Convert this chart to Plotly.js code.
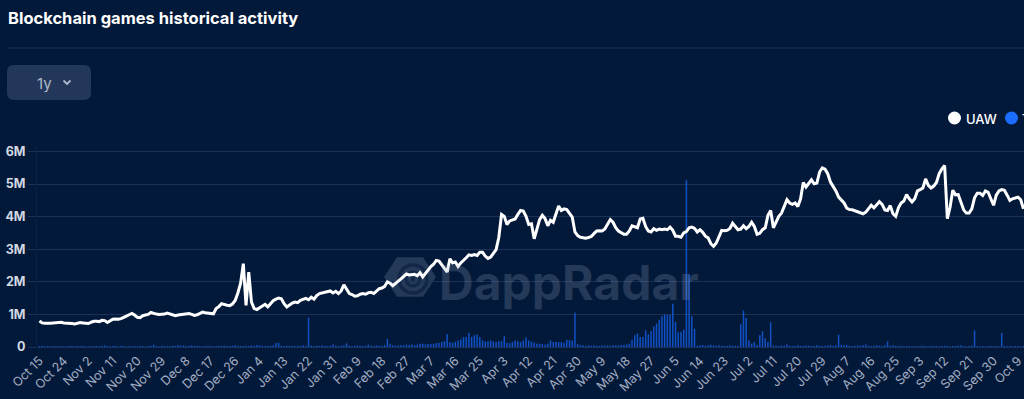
<!DOCTYPE html>
<html>
<head>
<meta charset="utf-8">
<script src="https://cdn.plot.ly/plotly-3.0.1.min.js"></script>
<style>
  html, body { margin: 0; padding: 0; background: #03193a; overflow: hidden; }
  #chart { width: 1024px; height: 399px; }
</style>
</head>
<body>
<div id="chart"></div>
<script>
// ---------------- DATA ----------------
const START_DATE = '2023-10-15';

// Unique active wallets (millions), one value per day from Oct 15
const UAW = [
  0.80,0.74,0.73,0.72,0.73,0.74,0.75,0.76,0.76,0.74,
  0.74,0.73,0.72,0.71,0.73,0.75,0.74,0.72,0.72,0.76,
  0.79,0.79,0.78,0.82,0.81,0.75,0.81,0.85,0.86,0.85,
  0.87,0.92,0.95,0.99,1.03,0.98,0.91,0.90,0.96,0.98,
  1.00,1.06,1.03,1.01,1.00,1.00,1.01,1.04,1.02,0.98,
  0.96,0.98,0.99,1.00,1.01,1.03,1.00,0.97,0.99,1.03,
  1.07,1.05,1.04,1.03,1.02,1.18,1.24,1.33,1.30,1.28,
  1.27,1.32,1.43,1.66,1.96,2.56,1.28,2.30,1.38,1.18,
  1.15,1.21,1.26,1.31,1.23,1.34,1.42,1.47,1.50,1.48,
  1.33,1.23,1.30,1.35,1.38,1.36,1.43,1.47,1.49,1.45,
  1.53,1.47,1.58,1.64,1.66,1.66,1.68,1.72,1.66,1.71,
  1.64,1.72,1.91,1.79,1.64,1.61,1.56,1.57,1.62,1.64,
  1.62,1.67,1.68,1.64,1.72,1.79,1.81,1.86,2.00,1.96,
  1.88,1.94,2.02,2.09,2.17,2.24,2.21,2.22,2.23,2.19,
  2.28,2.15,2.27,2.37,2.47,2.54,2.66,2.64,2.52,2.40,
  2.30,2.71,2.58,2.61,2.47,2.58,2.65,2.74,2.83,2.81,
  2.84,2.81,2.91,2.91,2.79,2.72,2.76,2.86,2.99,3.37,
  4.07,4.01,3.76,3.87,3.91,3.93,4.07,4.19,4.17,4.01,
  3.76,3.78,3.32,3.60,3.91,4.04,3.94,3.72,3.89,3.83,
  4.12,4.33,4.19,4.24,4.22,4.11,3.99,3.53,3.42,3.37,
  3.35,3.34,3.36,3.39,3.48,3.56,3.57,3.56,3.62,3.78,
  3.91,3.83,3.66,3.56,3.51,3.46,3.46,3.56,3.72,3.70,
  3.66,3.93,3.95,3.70,3.56,3.53,3.63,3.58,3.62,3.60,
  3.62,3.60,3.68,3.58,3.40,3.40,3.37,3.50,3.54,3.66,
  3.68,3.64,3.53,3.60,3.52,3.40,3.35,3.17,3.09,3.19,
  3.37,3.58,3.57,3.58,3.64,3.80,3.70,3.60,3.62,3.72,
  3.63,3.70,3.83,3.70,3.46,3.49,3.60,3.66,4.04,4.19,
  3.66,3.83,4.01,4.11,4.29,4.52,4.42,4.38,4.42,4.31,
  4.55,5.05,4.91,5.03,5.13,5.01,5.03,5.37,5.50,5.46,
  5.32,5.06,4.93,4.79,4.60,4.52,4.42,4.26,4.22,4.21,
  4.18,4.16,4.13,4.09,4.14,4.23,4.35,4.27,4.35,4.46,
  4.38,4.21,4.19,4.34,4.09,4.01,4.27,4.42,4.48,4.68,
  4.55,4.45,4.55,4.79,4.83,4.88,5.16,4.96,4.88,4.94,
  5.05,5.32,5.47,5.57,3.94,4.29,4.81,4.67,4.68,4.45,
  4.21,4.11,4.11,4.24,4.58,4.72,4.72,4.65,4.79,4.75,
  4.55,4.35,4.66,4.79,4.83,4.81,4.66,4.50,4.55,4.58,
  4.60,4.52,4.24
];

// Transactions bars, as drawn on the same scale (millions), one per day
const TRANSACTIONS = [
  0.03,0.04,0.02,0.03,0.02,0.03,0.02,0.02,0.03,0.02,
  0.02,0.03,0.04,0.02,0.03,0.02,0.04,0.02,0.02,0.03,
  0.02,0.03,0.02,0.04,0.05,0.03,0.02,0.03,0.04,0.02,
  0.04,0.03,0.02,0.03,0.02,0.03,0.02,0.04,0.03,0.02,
  0.03,0.04,0.07,0.03,0.02,0.04,0.03,0.02,0.03,0.04,
  0.03,0.06,0.04,0.05,0.03,0.04,0.05,0.03,0.04,0.03,
  0.02,0.03,0.04,0.03,0.02,0.03,0.04,0.03,0.04,0.03,
  0.03,0.04,0.05,0.04,0.03,0.03,0.04,0.03,0.05,0.04,
  0.06,0.05,0.04,0.03,0.03,0.04,0.05,0.12,0.13,0.04,
  0.03,0.04,0.03,0.04,0.03,0.04,0.03,0.05,0.04,0.90,
  0.04,0.03,0.04,0.03,0.05,0.04,0.03,0.04,0.08,0.04,
  0.03,0.04,0.05,0.11,0.04,0.03,0.04,0.05,0.04,0.03,
  0.04,0.07,0.04,0.03,0.05,0.04,0.04,0.06,0.25,0.10,
  0.05,0.04,0.05,0.06,0.05,0.07,0.06,0.08,0.06,0.07,
  0.10,0.10,0.08,0.10,0.09,0.10,0.12,0.12,0.15,0.18,
  0.39,0.15,0.13,0.16,0.20,0.23,0.30,0.31,0.44,0.31,
  0.36,0.38,0.31,0.20,0.17,0.18,0.20,0.17,0.15,0.18,
  0.18,0.33,0.13,0.12,0.15,0.20,0.18,0.15,0.20,0.29,
  0.20,0.17,0.14,0.10,0.10,0.09,0.08,0.10,0.20,0.15,
  0.16,0.15,0.15,0.13,0.22,0.21,0.20,1.05,0.10,0.06,
  0.05,0.04,0.05,0.04,0.05,0.04,0.03,0.05,0.04,0.05,
  0.04,0.05,0.05,0.05,0.06,0.06,0.08,0.10,0.22,0.36,
  0.41,0.31,0.31,0.51,0.39,0.49,0.63,0.72,0.84,0.94,
  1.00,0.98,0.98,1.33,0.77,0.45,0.46,0.53,5.13,2.23,
  0.94,0.56,0.04,0.05,0.06,0.04,0.05,0.07,0.05,0.04,
  0.05,0.04,0.03,0.04,0.05,0.04,0.03,0.04,0.70,1.12,
  0.89,0.20,0.10,0.15,0.06,0.36,0.48,0.26,0.15,0.76,
  0.05,0.04,0.03,0.05,0.04,0.08,0.04,0.03,0.04,0.05,
  0.04,0.03,0.05,0.04,0.03,0.04,0.05,0.04,0.03,0.04,
  0.05,0.06,0.04,0.05,0.38,0.07,0.05,0.06,0.04,0.03,
  0.04,0.05,0.04,0.05,0.08,0.04,0.03,0.04,0.05,0.04,
  0.03,0.05,0.17,0.04,0.05,0.03,0.04,0.03,0.02,0.03,
  0.03,0.02,0.03,0.02,0.03,0.04,0.03,0.02,0.03,0.04,
  0.03,0.02,0.03,0.04,0.03,0.02,0.03,0.03,0.04,0.05,
  0.03,0.02,0.03,0.04,0.51,0.03,0.02,0.03,0.02,0.03,
  0.03,0.02,0.03,0.02,0.43,0.03,0.02,0.03,0.02,0.03,
  0.03,0.02,0.03
];

const X_TICK_LABELS = [
  'Oct 15','Oct 24','Nov 2','Nov 11','Nov 20','Nov 29','Dec 8','Dec 17','Dec 26',
  'Jan 4','Jan 13','Jan 22','Jan 31','Feb 9','Feb 18','Feb 27','Mar 7','Mar 16',
  'Mar 25','Apr 3','Apr 12','Apr 21','Apr 30','May 9','May 18','May 27','Jun 5',
  'Jun 14','Jun 23','Jul 2','Jul 11','Jul 20','Jul 29','Aug 7','Aug 16','Aug 25',
  'Sep 3','Sep 12','Sep 21','Sep 30','Oct 9'
];
const X_TICK_STEP_DAYS = 9;
const Y_TICK_VALUES = [0, 1, 2, 3, 4, 5, 6];
const Y_TICK_LABELS = ['0', '1M', '2M', '3M', '4M', '5M', '6M'];
const LEGEND_LABELS = ['UAW', 'Transactions'];
const TITLE = 'Blockchain games historical activity';
const RANGE_BUTTON = '1y';
const WATERMARK = 'DappRadar';

// ---------------- BUILD ----------------
const DAY = 86400000;
const t0 = Date.parse(START_DATE + 'T00:00:00Z');
function fmt(ms, withTime) {
  const s = new Date(ms).toISOString();
  return withTime ? s.slice(0, 19).replace('T', ' ') : s.slice(0, 10);
}
const dates = UAW.map((_, i) => fmt(t0 + i * DAY, false));
const tickvals = X_TICK_LABELS.map((_, i) => fmt(t0 + i * X_TICK_STEP_DAYS * DAY, false));

const W = 1024, H = 399;
const M = { l: 37, r: 0, t: 145, b: 52 };
const PW = W - M.l - M.r, PH = H - M.t - M.b;
const fx = px => (px - M.l) / PW;
const fy = py => (H - M.b - py) / PH;

const BG = '#03193a';
const GRID = '#1b3158';
const FONT = 'Inter, Roboto, sans-serif';

function roundRect(x0, y0, x1, y1, r) {
  const p = [
    ['M', x0 + r, y0], ['L', x1 - r, y0], ['Q', x1, y0, x1, y0 + r],
    ['L', x1, y1 - r], ['Q', x1, y1, x1 - r, y1], ['L', x0 + r, y1],
    ['Q', x0, y1, x0, y1 - r], ['L', x0, y0 + r], ['Q', x0, y0, x0 + r, y0]
  ];
  return p.map(seg => {
    const c = seg[0]; const out = [c];
    for (let i = 1; i < seg.length; i += 2) out.push(fx(seg[i]) + ',' + fy(seg[i + 1]));
    return out.join(' ');
  }).join(' ') + ' Z';
}
function polyPath(pts) {
  return pts.map((p, i) => (i ? 'L ' : 'M ') + fx(p[0]) + ',' + fy(p[1])).join(' ') + ' Z';
}
function openPath(pts) {
  return pts.map((p, i) => (i ? 'L ' : 'M ') + fx(p[0]) + ',' + fy(p[1])).join(' ');
}
function circ(cx, cy, r, style) {
  return Object.assign({
    type: 'circle', xref: 'paper', yref: 'paper',
    x0: fx(cx - r), x1: fx(cx + r), y0: fy(cy + r), y1: fy(cy - r)
  }, style);
}

// watermark hexagon
const hcx = 410, hcy = 277, hr = 26;
const hex = [];
for (let k = 0; k < 6; k++) {
  const a = Math.PI / 180 * (60 * k);
  hex.push([hcx + hr * Math.cos(a), hcy + hr * 0.88 * Math.sin(a)]);
}

const shapes = [
  { type: 'line', xref: 'paper', yref: 'paper', x0: fx(7), x1: fx(1030), y0: fy(48), y1: fy(48),
    line: { color: '#1a3562', width: 1 } },
  { type: 'path', xref: 'paper', yref: 'paper', path: roundRect(7, 65, 91, 100, 7),
    fillcolor: '#22375a', line: { width: 0 } },
  { type: 'path', xref: 'paper', yref: 'paper', path: openPath([[63.5, 80.5], [67, 84], [70.5, 80.5]]),
    line: { color: '#aeb8c9', width: 1.8 } },
  { type: 'path', xref: 'paper', yref: 'paper', path: polyPath(hex), layer: 'below',
    fillcolor: 'rgba(160,172,196,0.22)', line: { width: 0 } },
  circ(413, 279, 14, { layer: 'below', line: { color: 'rgba(3,25,58,0.55)', width: 3.5 } }),
  circ(413, 279, 7, { layer: 'below', line: { color: 'rgba(3,25,58,0.55)', width: 3 } }),
  circ(413, 279, 2, { layer: 'below', fillcolor: 'rgba(3,25,58,0.55)', line: { width: 0 } }),
  circ(954.5, 118, 6.5, { fillcolor: '#ffffff', line: { width: 0 } }),
  circ(1011.5, 118, 6.5, { fillcolor: '#1a6dff', line: { width: 0 } })
];

const annotations = [
  { xref: 'paper', yref: 'paper', x: fx(44), y: fy(83), text: RANGE_BUTTON, showarrow: false,
    xanchor: 'center', yanchor: 'middle', font: { family: FONT, size: 15, color: '#aeb8c9' } },
  { xref: 'paper', yref: 'paper', x: fx(569), y: fy(282), text: WATERMARK, showarrow: false,
    xanchor: 'center', yanchor: 'middle',
    font: { family: FONT, size: 48, weight: 700, color: 'rgba(160,172,196,0.22)' } },
  { xref: 'paper', yref: 'paper', x: fx(964), y: fy(118.5), text: LEGEND_LABELS[0], showarrow: false,
    xanchor: 'left', yanchor: 'middle', font: { family: FONT, size: 13, weight: 500, color: '#ffffff' } },
  { xref: 'paper', yref: 'paper', x: fx(1020), y: fy(118.5), text: LEGEND_LABELS[1], showarrow: false,
    xanchor: 'left', yanchor: 'middle', font: { family: FONT, size: 13, weight: 500, color: '#ffffff' } }
];

const traces = [
  {
    type: 'bar', x: dates, y: TRANSACTIONS, name: LEGEND_LABELS[1],
    marker: { color: 'rgba(22,104,250,0.72)', line: { width: 0 } },
    hoverinfo: 'skip', showlegend: false
  },
  {
    type: 'scatter', mode: 'lines', x: dates, y: UAW, name: LEGEND_LABELS[0],
    line: { color: '#ffffff', width: 3, shape: 'linear' },
    hoverinfo: 'skip', showlegend: false
  }
];

const layout = {
  width: W, height: H,
  margin: M,
  paper_bgcolor: BG, plot_bgcolor: BG,
  bargap: 0.45,
  showlegend: false,
  title: {
    text: TITLE, xref: 'container', yref: 'container', x: 8 / W, xanchor: 'left',
    y: 1 - 18 / H, yanchor: 'middle',
    font: { family: FONT, size: 16.5, weight: 700, color: '#ffffff' }
  },
  xaxis: {
    type: 'date',
    range: [fmt(t0 - 0.9 * DAY, true), fmt(t0 + 362.2 * DAY, true)],
    tickmode: 'array', tickvals: tickvals, ticktext: X_TICK_LABELS,
    tickangle: -45, ticks: '', showgrid: false, zeroline: false, showline: false,
    ticklabeloverflow: 'allow', ticklabelstandoff: 3,
    tickfont: { family: FONT, size: 12.5, color: '#a3afc3' }
  },
  yaxis: {
    range: [0, 6.2],
    tickmode: 'array', tickvals: Y_TICK_VALUES, ticktext: Y_TICK_LABELS,
    ticks: 'outside', ticklen: 8, tickcolor: GRID, tickwidth: 1,
    showgrid: true, gridcolor: GRID, gridwidth: 1,
    zeroline: true, zerolinecolor: GRID, zerolinewidth: 1,
    showline: true, linecolor: '#0b2247', linewidth: 1,
    tickfont: { family: FONT, size: 12.5, weight: 700, color: '#d3d9e3' }
  },
  shapes: shapes,
  annotations: annotations
};

Plotly.newPlot('chart', traces, layout, { displayModeBar: false, staticPlot: true });
</script>
</body>
</html>
